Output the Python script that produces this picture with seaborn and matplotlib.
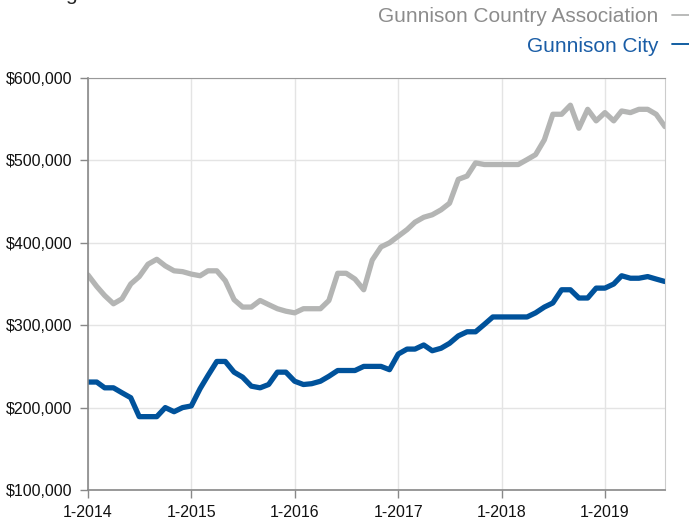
import pandas as pd
import matplotlib.pyplot as plt
import matplotlib.dates as mdates
from matplotlib.lines import Line2D
from matplotlib.ticker import FuncFormatter
import seaborn as sns

# ------------------------------
# Data: monthly values, Jan 2014 - Aug 2019
# ------------------------------
months = pd.date_range("2014-01-01", periods=68, freq="MS")

county_assoc = [
    361, 347, 336, 326, 332, 350, 359, 374, 380, 372, 366, 365,
    362, 360, 366, 366, 354, 331, 322, 322, 330, 325, 320, 317,
    315, 320, 320, 320, 330, 363, 363, 356, 343, 379, 395, 400,
    408, 416, 425, 431, 434, 440, 448, 477, 481, 497, 495, 495,
    495, 495, 495, 501, 507, 525, 556, 556, 567, 539, 562, 548,
    558, 548, 560, 558, 562, 562, 556, 541,
]
city = [
    231, 231, 224, 224, 218, 212, 189, 189, 189, 200, 195, 200,
    202, 223, 239, 256, 256, 243, 237, 226, 224, 228, 243, 243,
    232, 228, 229, 232, 238, 245, 245, 245, 250, 250, 250, 246,
    265, 271, 271, 276, 269, 272, 278, 287, 292, 292, 301, 310,
    310, 310, 310, 310, 315, 322, 327, 343, 343, 333, 333, 345,
    345, 350, 360, 357, 357, 359, 356, 353,
]

series_names = ["Gunnison Country Association", "Gunnison City"]
colors = ["#b4b5b4", "#00529b"]
text_colors = ["#8c8c8c", "#1a5da6"]

df = pd.DataFrame({
    "Month": list(months) * 2,
    "Price": [v * 1000 for v in county_assoc + city],
    "Area": [series_names[0]] * len(months) + [series_names[1]] * len(months),
})

# ------------------------------
# Plot
# ------------------------------
sns.set_style("white")
plt.rcParams["font.family"] = ["Liberation Sans", "DejaVu Sans"]

fig = plt.figure(figsize=(6.89, 5.19), dpi=100)
ax = fig.add_axes([0.1277, 0.0559, 0.8374, 0.7938])

sns.lineplot(data=df, x="Month", y="Price", hue="Area", hue_order=series_names,
             palette=colors, linewidth=3.8, ax=ax, legend=False)

ax.set_xlim(months[0], months[-1])
ax.set_ylim(100000, 600000)
ax.set_yticks(range(100000, 600001, 100000))
ax.yaxis.set_major_formatter(FuncFormatter(lambda v, p: f"${v:,.0f}"))
ax.xaxis.set_major_locator(mdates.MonthLocator(bymonth=1))
ax.xaxis.set_major_formatter(mdates.DateFormatter("1-%Y"))
ax.set_xlabel("")
ax.set_ylabel("")

ax.grid(True, color="#e4e4e4", linewidth=1)
ax.set_axisbelow(True)
ax.tick_params(axis="both", direction="out", length=6, width=1, color="#888888",
               labelsize=11.5, labelcolor="#111111", pad=5)
ax.tick_params(axis="x", bottom=True)
ax.tick_params(axis="y", left=True)

for side in ["left", "bottom"]:
    ax.spines[side].set_color("#888888")
    ax.spines[side].set_linewidth(1.2)
ax.spines["top"].set_color("#999999")
ax.spines["right"].set_color("#cccccc")

# Legend in the top-right corner, label first then a short dash
handles = [Line2D([0], [0], color=c, linewidth=1.3) for c in colors]
leg = fig.legend(handles=handles, labels=series_names, loc="upper right",
                 bbox_to_anchor=(1.027, 1.022), frameon=False, markerfirst=False,
                 handlelength=0.8, handletextpad=0.65, labelspacing=0.5,
                 fontsize=15)
for txt, tc in zip(leg.get_texts(), text_colors):
    txt.set_color(tc)

# Clipped title remnant at the very top
fig.text(0.094, 1.0, "g", fontsize=15, va="baseline", ha="left")

plt.savefig("out.png", dpi=100)
